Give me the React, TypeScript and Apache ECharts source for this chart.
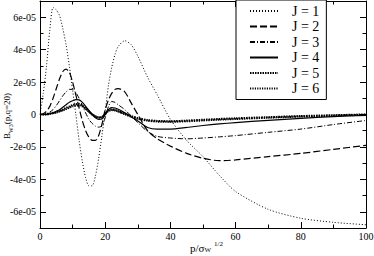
import React, { useEffect, useRef } from 'react';
import * as echarts from 'echarts';

// x positions (p / sigma_W^{1/2})
const xs = [0, 1, 2, 3, 4, 5, 6, 7, 8, 9, 10, 11, 12, 13, 14, 15, 16, 17, 18, 19, 20, 21, 22, 23, 24, 26, 28, 30, 33, 36, 40, 45, 50, 55, 60, 70, 80, 90, 100];

// series values, in units of 1e-5
const j1 = [0, 1.3, 3.0, 5.2, 6.6, 6.45, 6.1, 5.3, 4.3, 3.0, 1.5, 0.0, -1.6, -2.9, -3.9, -4.4, -4.4, -3.8, -2.7, -1.3, 0.2, 1.8, 2.9, 3.7, 4.2, 4.55, 4.3, 3.6, 2.3, 1.2, -0.3, -1.6, -2.6, -3.75, -4.75, -5.85, -6.4, -6.65, -6.8];
const j2 = [0, 0.05, 0.2, 0.5, 1.0, 1.6, 2.2, 2.65, 2.8, 2.6, 2.0, 1.2, 0.4, -0.4, -1.0, -1.4, -1.6, -1.6, -1.3, -0.6, 0.3, 0.9, 1.3, 1.55, 1.6, 1.4, 0.7, 0.0, -1.0, -1.5, -1.95, -2.4, -2.7, -2.85, -2.8, -2.6, -2.4, -2.15, -1.9];
const j3 = [0, 0, 0.05, 0.15, 0.3, 0.55, 0.85, 1.15, 1.4, 1.55, 1.55, 1.35, 1.0, 0.55, 0.1, -0.3, -0.55, -0.72, -0.78, -0.7, -0.2, 0.5, 0.8, 0.75, 0.6, 0.3, -0.1, -0.5, -1.05, -1.35, -1.45, -1.5, -1.45, -1.38, -1.3, -1.1, -0.9, -0.62, -0.37];
const j4 = [0, 0, 0, 0.05, 0.1, 0.2, 0.3, 0.45, 0.6, 0.75, 0.85, 0.92, 0.9, 0.75, 0.5, 0.25, 0.0, -0.2, -0.3, -0.28, 0.0, 0.3, 0.42, 0.4, 0.32, 0.1, -0.15, -0.4, -0.8, -0.9, -0.9, -0.8, -0.68, -0.58, -0.5, -0.36, -0.24, -0.13, -0.05];
const j5 = [0, 0, 0.02, 0.05, 0.1, 0.15, 0.22, 0.3, 0.4, 0.5, 0.58, 0.63, 0.65, 0.55, 0.38, 0.18, 0.0, -0.12, -0.2, -0.18, 0.05, 0.25, 0.3, 0.28, 0.2, 0.05, -0.1, -0.22, -0.35, -0.4, -0.42, -0.38, -0.33, -0.28, -0.24, -0.17, -0.1, -0.05, 0.0];
const j6 = [0, 0, 0.01, 0.03, 0.07, 0.12, 0.18, 0.25, 0.33, 0.42, 0.5, 0.55, 0.56, 0.5, 0.35, 0.18, 0.02, -0.1, -0.17, -0.15, 0.05, 0.22, 0.27, 0.25, 0.18, 0.02, -0.14, -0.26, -0.38, -0.44, -0.45, -0.42, -0.37, -0.32, -0.28, -0.2, -0.13, -0.07, -0.02];

const seriesNames = ['J = 1', 'J = 2', 'J = 3', 'J = 4', 'J = 5', 'J = 6'];
const seriesValues = [j1, j2, j3, j4, j5, j6];
const UNIT = 1e-5;
const yMin = -7e-5;
const yMax = 7e-5;
const xMin = 0;
const xMax = 100;
const xInterval = 20;

const FONT = 'Liberation Serif';

export default function App() {
  const ref = useRef<HTMLDivElement>(null);

  useEffect(() => {
    if (!ref.current) return;
    const chart = echarts.init(ref.current, null, { renderer: 'svg' });

    const lineStyles: any[] = [
      { type: [1, 2], width: 1 },
      { type: [7, 3], width: 1.2 },
      { type: [5, 2, 1, 2], width: 1 },
      { type: 'solid', width: 1.2 },
      { type: [1.5, 1], width: 2.2 },
      { type: [1.2, 1.2], width: 2 },
    ];

    const axisLine = { show: true, onZero: false, lineStyle: { color: '#000', width: 1 } };
    const axisTick = { show: true, inside: true, length: 6, lineStyle: { color: '#000', width: 1 } };
    const minorTick = { show: true, splitNumber: 2, length: 3.5, lineStyle: { color: '#000', width: 1 } };

    const fmtY = (v: number) => {
      const n = Math.round(v / UNIT);
      if (n === 0) return '0';
      return `${n}e-05`;
    };

    chart.setOption({
      animation: false,
      backgroundColor: '#fff',
      textStyle: { fontFamily: FONT, color: '#000' },
      grid: { left: 40, right: 8, top: 1, bottom: 28, outerBoundsMode: 'none', containLabel: false },
      legend: {
        orient: 'vertical',
        left: 236,
        top: 0,
        padding: [4, 7, 4, 13],
        itemWidth: 28,
        itemHeight: 14,
        itemGap: 1.5,
        backgroundColor: '#fff',
        borderColor: '#000',
        borderWidth: 1,
        itemStyle: { opacity: 0 },
        textStyle: { fontFamily: FONT, fontSize: 14, fontWeight: 'normal', color: '#000', padding: [0, 0, 0, 9] },
        data: seriesNames,
      },
      xAxis: [
        {
          type: 'value',
          min: xMin,
          max: xMax,
          interval: xInterval,
          position: 'bottom',
          axisLine,
          axisTick,
          minorTick,
          splitLine: { show: false },
          axisLabel: { fontFamily: FONT, fontSize: 10, color: '#000', margin: 3 },
        },
        {
          type: 'value',
          min: xMin,
          max: xMax,
          interval: xInterval,
          position: 'top',
          axisLine,
          axisTick,
          minorTick,
          splitLine: { show: false },
          axisLabel: { show: false },
        },
      ],
      yAxis: [
        {
          type: 'value',
          min: yMin,
          max: yMax,
          splitNumber: 7,
          position: 'left',
          axisLine,
          axisTick,
          minorTick,
          splitLine: { show: false },
          axisLabel: {
            fontFamily: FONT,
            fontSize: 10,
            color: '#000',
            margin: 4,
            showMinLabel: false,
            showMaxLabel: false,
            formatter: fmtY,
          },
        },
        {
          type: 'value',
          min: yMin,
          max: yMax,
          splitNumber: 7,
          position: 'right',
          axisLine,
          axisTick,
          minorTick,
          splitLine: { show: false },
          axisLabel: { show: false },
        },
      ],
      graphic: [
        {
          type: 'text',
          left: 190,
          top: 238,
          style: {
            text: '{a|p/σ}{b|W}{c|1/2}',
            fontFamily: FONT,
            fill: '#000',
            rich: {
              a: { fontFamily: FONT, fontSize: 11, fill: '#000', lineHeight: 13, padding: [4, 0, 0, 0], verticalAlign: 'bottom' },
              b: { fontFamily: FONT, fontSize: 7, fill: '#000', lineHeight: 8, verticalAlign: 'bottom' },
              c: { fontFamily: FONT, fontSize: 7, fill: '#000', lineHeight: 8, verticalAlign: 'top', padding: [0, 0, 0, 3] },
            },
          },
        },
        {
          type: 'text',
          x: 8,
          y: 116,
          rotation: Math.PI / 2,
          style: {
            text: '{a|B}{b|W3}{a|(p,q=20)}',
            fontFamily: FONT,
            fill: '#000',
            align: 'center',
            verticalAlign: 'middle',
            rich: {
              a: { fontFamily: FONT, fontSize: 9, fill: '#000', lineHeight: 12, verticalAlign: 'top' },
              b: { fontFamily: FONT, fontSize: 6, fill: '#000', lineHeight: 7, verticalAlign: 'bottom' },
            },
          },
        },
      ],
      series: seriesValues.map((vals, k) => ({
        name: seriesNames[k],
        type: 'line',
        xAxisIndex: 0,
        yAxisIndex: 0,
        data: xs.map((x, i) => [x, vals[i] * UNIT]),
        symbol: 'none',
        showSymbol: false,
        smooth: 0.25,
        lineStyle: { color: '#000', ...lineStyles[k] },
        itemStyle: { color: '#000' },
        z: 2,
      })),
    });

    return () => {
      chart.dispose();
    };
  }, []);

  return (
    <div
      ref={ref}
      style={{ position: 'fixed', left: 0, top: 0, width: 374, height: 256 }}
    />
  );
}
